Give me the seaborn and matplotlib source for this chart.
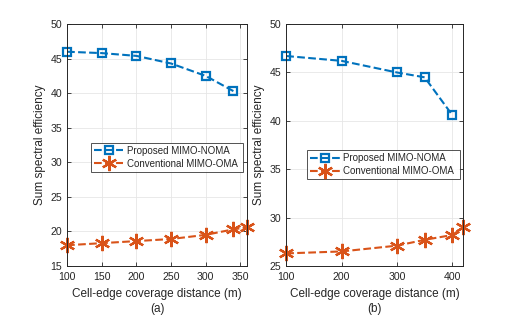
import numpy as np
import pandas as pd
import matplotlib
matplotlib.use("Agg")
import matplotlib.pyplot as plt
import seaborn as sns

# (a) data
dist_a_noma = [100, 150, 200, 250, 300, 340]
se_a_noma = [46.0, 45.8, 45.4, 44.3, 42.5, 40.3]
dist_a_oma = [100, 150, 200, 250, 300, 340, 360]
se_a_oma = [18.0, 18.3, 18.6, 18.9, 19.5, 20.3, 20.6]

# (b) data
dist_b_noma = [100, 200, 300, 350, 400]
se_b_noma = [46.7, 46.2, 45.0, 44.5, 40.6]
dist_b_oma = [100, 200, 300, 350, 400, 420]
se_b_oma = [26.3, 26.5, 27.1, 27.7, 28.2, 29.0]

labels = ["Proposed MIMO-NOMA", "Conventional MIMO-OMA"]
colors = ["#0072BD", "#D95319"]


def make_df(d1, s1, d2, s2):
    return pd.concat([
        pd.DataFrame({"dist": d1, "se": s1, "scheme": labels[0]}),
        pd.DataFrame({"dist": d2, "se": s2, "scheme": labels[1]}),
    ])


sns.set_theme(style="whitegrid")
plt.rcParams["font.family"] = ["Liberation Sans", "DejaVu Sans"]

fig = plt.figure(figsize=(5.12, 3.17), dpi=100)
ax1 = fig.add_axes([0.131, 0.161, 0.352, 0.763])
ax2 = fig.add_axes([0.559, 0.161, 0.346, 0.763])

panels = [
    (ax1, make_df(dist_a_noma, se_a_noma, dist_a_oma, se_a_oma), (100, 360), (15, 50),
     [100, 150, 200, 250, 300, 350], "(a)", (0.135, 0.39, 0.84, 0.24)),
    (ax2, make_df(dist_b_noma, se_b_noma, dist_b_oma, se_b_oma), (100, 420), (25, 50),
     [100, 200, 300, 400], "(b)", (0.12, 0.36, 0.86, 0.13)),
]

for ax, df, xl, yl, xt, tag, lbox in panels:
    for i, lab in enumerate(labels):
        sub = df[df["scheme"] == lab]
        sns.lineplot(data=sub, x="dist", y="se", ax=ax, color=colors[i],
                     linestyle="--", linewidth=1.5, label=lab,
                     marker="s" if i == 0 else (6, 2, 0),
                     markersize=6 if i == 0 else 11,
                     markerfacecolor="none" if i == 0 else colors[i],
                     markeredgecolor=colors[i], markeredgewidth=1.6,
                     dashes=(3.5, 2.2), clip_on=False)
    ax.set_xlim(*xl)
    ax.set_ylim(*yl)
    ax.set_xticks(xt)
    ax.set_yticks(np.arange(yl[0], yl[1] + 1, 5))
    ax.set_xlabel("Cell-edge coverage distance (m)\n" + tag, fontsize=8.5,
                  color="#262626", labelpad=4, linespacing=1.35)
    ax.set_ylabel("Sum spectral efficiency", fontsize=8.5, color="#262626", labelpad=3)
    ax.tick_params(axis="both", labelsize=7.6, colors="#262626", direction="in",
                   length=3, width=0.6, top=True, right=True,
                   bottom=True, left=True)
    ax.tick_params(axis="x", pad=4.5)
    ax.tick_params(axis="y", pad=3.5)
    ax.set_facecolor("white")
    ax.grid(True, color="#e6e6e6", linewidth=0.6)
    for sp in ax.spines.values():
        sp.set_color("#262626")
        sp.set_linewidth(0.7)
        sp.set_zorder(5)
    leg = ax.legend(loc="lower left", bbox_to_anchor=lbox, mode="expand",
                    fontsize=7, frameon=True, fancybox=False,
                    handlelength=3, handletextpad=0.4, borderpad=0.3,
                    labelspacing=0.3, borderaxespad=0)
    leg.get_frame().set_edgecolor("#262626")
    leg.get_frame().set_linewidth(0.7)

fig.savefig("out.png", dpi=100)
